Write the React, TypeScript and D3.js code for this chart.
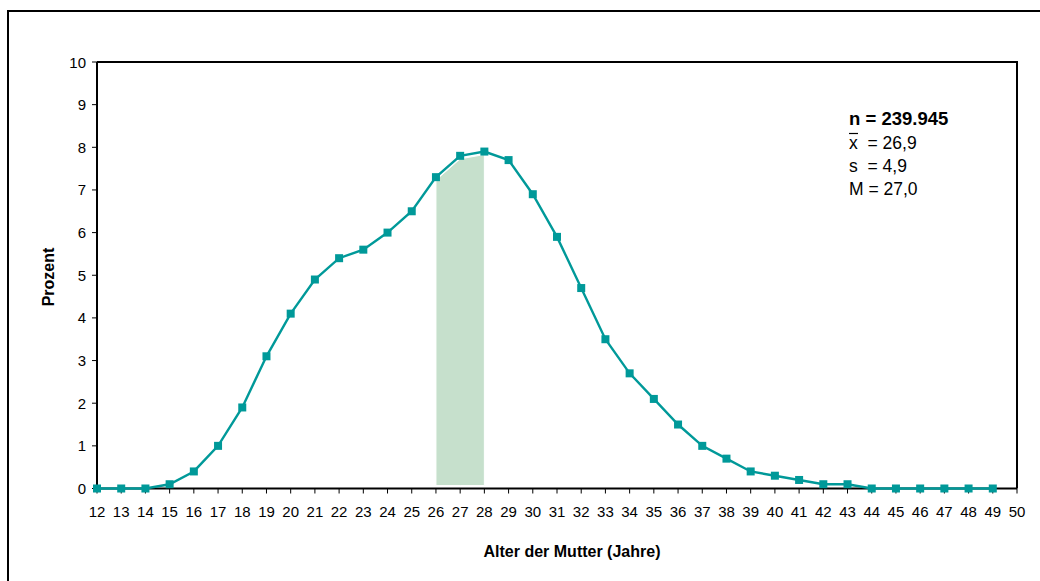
import React from "react";
import * as d3 from "d3";

const ages: number[] = [12,13,14,15,16,17,18,19,20,21,22,23,24,25,26,27,28,29,30,31,32,33,34,35,36,37,38,39,40,41,42,43,44,45,46,47,48,49];
const percent: number[] = [0,0,0,0.1,0.4,1.0,1.9,3.1,4.1,4.9,5.4,5.6,6.0,6.5,7.3,7.8,7.9,7.7,6.9,5.9,4.7,3.5,2.7,2.1,1.5,1.0,0.7,0.4,0.3,0.2,0.1,0.1,0,0,0,0,0,0];
const xTicks: number[] = d3.range(12, 51);
const yTicks: number[] = d3.range(0, 11);
const shadeFrom = 26;
const shadeTo = 28;
const statsN = "n = 239.945";
const statsMean = "\u00a0\u00a0= 26,9";
const statsS = "s\u00a0\u00a0= 4,9";
const statsM = "M = 27,0";

const W = 1040, H = 581;
const left = 97, right = 1017, top = 62, bottom = 488.5;
const teal = "#009999";
const font = "Liberation Sans, Arial, sans-serif";

export default function App() {
  const x = d3.scaleLinear().domain([12, 50]).range([left, right]);
  const y = d3.scaleLinear().domain([0, 10]).range([bottom, top]);
  const pts = ages.map((a, i) => ({ a, v: percent[i] }));
  const line = d3.line<{ a: number; v: number }>().x(d => x(d.a)).y(d => y(d.v));
  const shadePts = pts.filter(p => p.a >= shadeFrom && p.a <= shadeTo);
  const area = d3.area<{ a: number; v: number }>()
    .x(d => x(d.a)).y0(y(0.07)).y1(d => y(d.v) + 3);

  return (
    <svg width={W} height={H} style={{ position: "absolute", left: 0, top: 0, background: "#fff" }} fontFamily={font}>
      <rect x={0} y={0} width={W} height={H} fill="#fff" />
      {/* outer frame */}
      <rect x={8} y={11} width={W + 20} height={H + 20} fill="none" stroke="#000" strokeWidth={2} />
      {/* shaded area */}
      <path d={area(shadePts) || ""} fill="#c6e0cc" stroke="#fff" strokeWidth={1} />
      {/* plot frame */}
      <path d={`M${left},${top}H${right}V${bottom}`} fill="none" stroke="#000" strokeWidth={2} />
      <line x1={left} x2={left} y1={top} y2={bottom} stroke="#000" strokeWidth={2} />
      <line x1={left} x2={right} y1={bottom} y2={bottom} stroke="#000" strokeWidth={2} />
      {/* y ticks */}
      {yTicks.map(t => (
        <g key={"y" + t}>
          <line x1={left - 5} x2={left} y1={y(t)} y2={y(t)} stroke="#000" strokeWidth={1} />
          <text x={left - 11} y={y(t) + 5.5} textAnchor="end" fontSize={15}>{t}</text>
        </g>
      ))}
      {/* x ticks */}
      {xTicks.map(t => (
        <g key={"x" + t}>
          <line x1={x(t)} x2={x(t)} y1={bottom} y2={bottom + 5} stroke="#000" strokeWidth={1} />
          <text x={x(t)} y={517} textAnchor="middle" fontSize={15}>{t}</text>
        </g>
      ))}
      {/* line */}
      <path d={line(pts) || ""} fill="none" stroke={teal} strokeWidth={2.4} />
      {pts.map(p => (
        <rect key={"m" + p.a} x={x(p.a) - 4} y={y(p.v) - 4} width={8} height={8} fill={teal} />
      ))}
      {/* axis titles */}
      <text transform={`translate(54,277) rotate(-90)`} textAnchor="middle" fontSize={16} fontWeight="bold">Prozent</text>
      <text x={572} y={557} textAnchor="middle" fontSize={16} fontWeight="bold">Alter der Mutter (Jahre)</text>
      {/* stats */}
      <text x={849} y={125} fontSize={18.5} fontWeight="bold">{statsN}</text>
      <text x={849} y={149} fontSize={17.5}>
        <tspan>x</tspan>
        <tspan>{statsMean}</tspan>
      </text>
      <line x1={849} x2={858} y1={133.5} y2={133.5} stroke="#000" strokeWidth={1.2} />
      <text x={849} y={172} fontSize={17.5}>{statsS}</text>
      <text x={849} y={195} fontSize={17.5}>{statsM}</text>
    </svg>
  );
}
